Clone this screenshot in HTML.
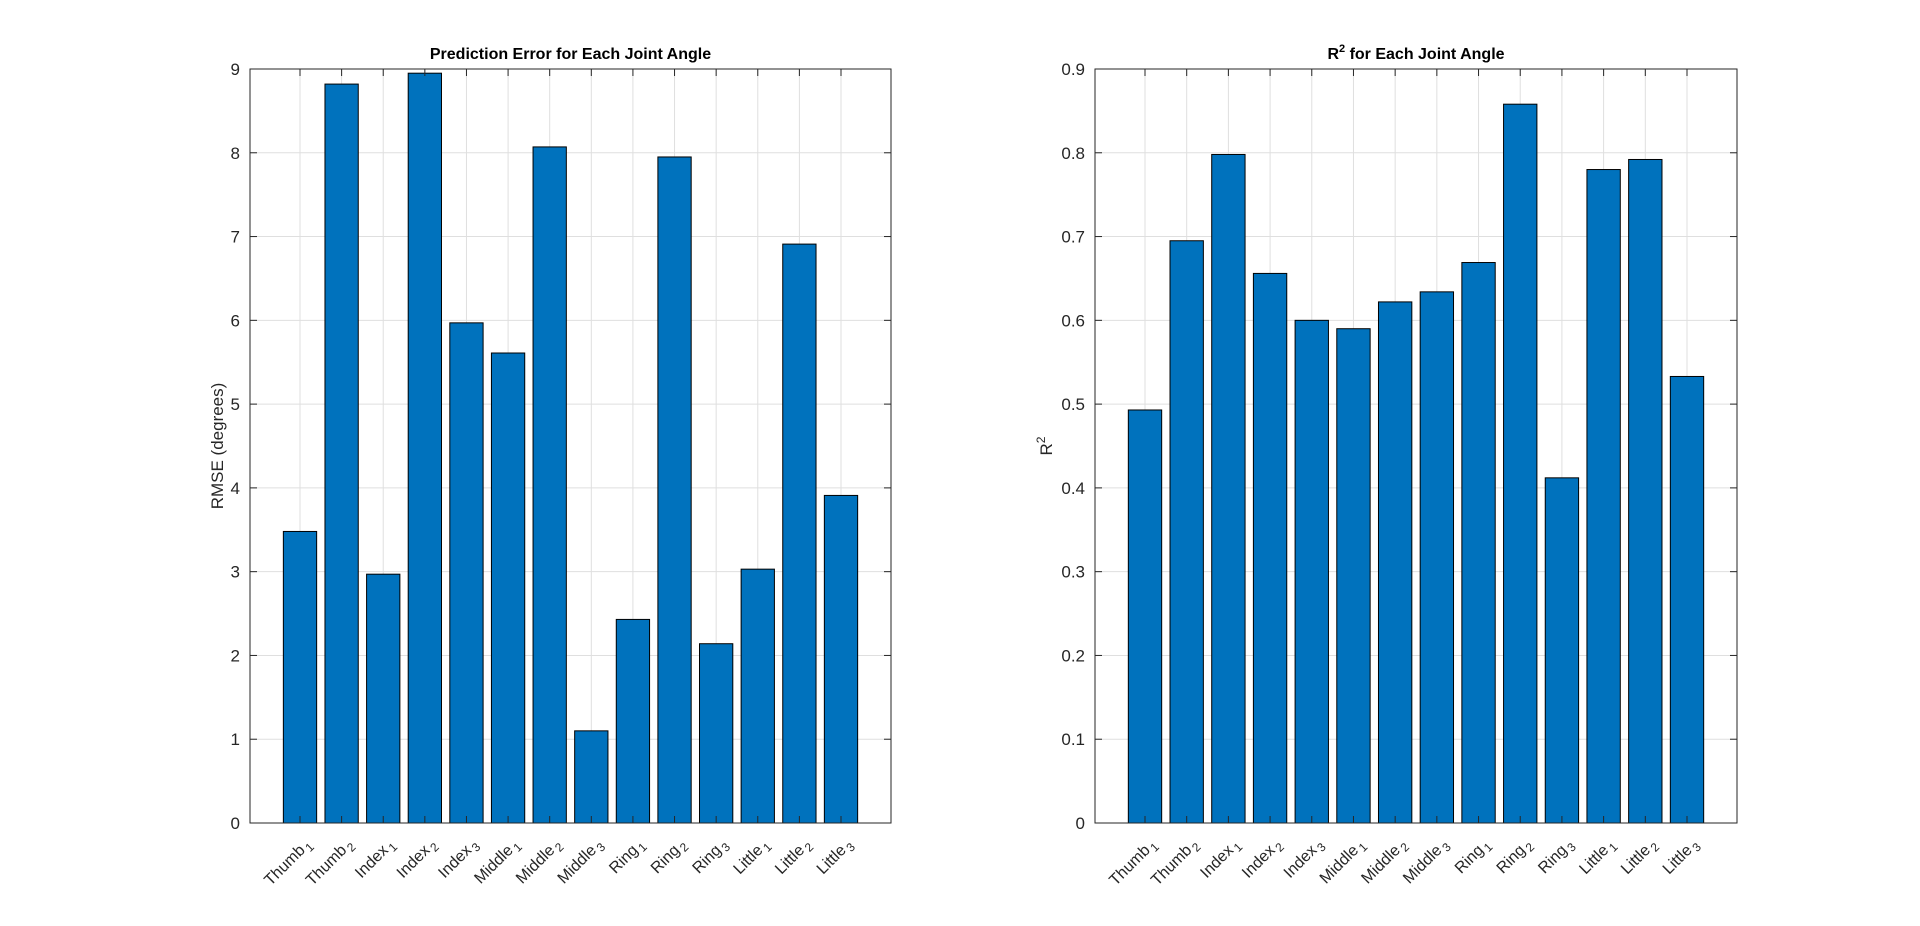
<!DOCTYPE html>
<html><head><meta charset="utf-8"><style>
html,body{margin:0;padding:0;background:#fff;}
svg{display:block;font-family:"Liberation Sans",Arial,sans-serif;}
</style></head><body>
<svg id="fig" width="1920" height="926" viewBox="0 0 1920 926" xmlns="http://www.w3.org/2000/svg">
<rect width="1920" height="926" fill="#fff"/>
</svg>
<script>
const categories = ["Thumb","Thumb","Index","Index","Index","Middle","Middle","Middle","Ring","Ring","Ring","Little","Little","Little"];
const subscripts = ["1","2","1","2","3","1","2","3","1","2","3","1","2","3"];
const rmseValues = [3.48,8.82,2.97,8.95,5.97,5.61,8.07,1.10,2.43,7.95,2.14,3.03,6.91,3.91];
const r2Values = [0.493,0.695,0.798,0.656,0.600,0.590,0.622,0.634,0.669,0.858,0.412,0.780,0.792,0.533];
const rmseTicks = [0,1,2,3,4,5,6,7,8,9];
const r2Ticks = [0,0.1,0.2,0.3,0.4,0.5,0.6,0.7,0.8,0.9];
const r2TickLabels = ["0","0.1","0.2","0.3","0.4","0.5","0.6","0.7","0.8","0.9"];

const NS="http://www.w3.org/2000/svg";
const svg=document.getElementById('fig');
function mk(tag,attrs,parent){const e=document.createElementNS(NS,tag);for(const k in attrs)e.setAttribute(k,attrs[k]);(parent||svg).appendChild(e);return e;}

function drawPanel(o){
  const g=mk('g',{});
  
  
  const L=o.left,R=o.right,T=69,B=823;
  const n=o.values.length;
  const xs=i=>L+50+i*((R-L-100)/(n-1));
  const ys=v=>B-(v-o.ymin)/(o.ymax-o.ymin)*(B-T);
  const step=(R-L-100)/(n-1);
  o.ticks.forEach(t=>{const y=ys(t);const l=mk('line',{x1:L,x2:R,y1:y,y2:y,stroke:'#dfdfdf','stroke-width':1},g);
    });
  for(let i=0;i<n;i++){const x=xs(i);const l=mk('line',{x1:x,x2:x,y1:T,y2:B,stroke:'#dfdfdf','stroke-width':1},g);
    }
  o.values.forEach((v,i)=>{const w=step*0.8;const y=ys(v);
    const r=mk('rect',{x:xs(i)-w/2,y:y,width:w,height:B-y,fill:'#0072BD',stroke:'#000','stroke-width':1},g);
    
    });
  o.ticks.forEach((t,k)=>{const y=ys(t);
    mk('line',{x1:L,x2:L+7,y1:y,y2:y,stroke:'#262626'},g);
    mk('line',{x1:R-7,x2:R,y1:y,y2:y,stroke:'#262626'},g);
    const tx=mk('text',{x:L-10,y:y+6,'text-anchor':'end','font-size':17,fill:'#262626'},g);
    tx.textContent=o.tickLabels[k];
    });
  for(let i=0;i<n;i++){const x=xs(i);
    mk('line',{x1:x,x2:x,y1:B,y2:B-7,stroke:'#262626'},g);
    mk('line',{x1:x,x2:x,y1:T,y2:T+7,stroke:'#262626'},g);
    const tx=mk('text',{transform:`translate(${x+12},${B+22}) rotate(-45)`,'text-anchor':'end','font-size':16,fill:'#262626'},g);
    
    const a=mk('tspan',{},tx);a.textContent=categories[i];
    const b=mk('tspan',{'font-size':12,dy:4,dx:2},tx);b.textContent=subscripts[i];}
  const bx=mk('rect',{x:L,y:T,width:R-L,height:B-T,fill:'none',stroke:'#262626','stroke-width':1},g);
  
  const tt=mk('text',{x:(L+R)/2,y:T-10,'text-anchor':'middle','font-size':16,'font-weight':'bold',fill:'#000'},g);
  
  if(o.r2title){const a=mk('tspan',{},tt);a.textContent='R';const s=mk('tspan',{'font-size':11,dy:-7},tt);s.textContent='2';const c=mk('tspan',{dy:7},tt);c.textContent=' for Each Joint Angle';}
  else tt.textContent=o.title;
  const yl=mk('text',{transform:`translate(${o.ylx},446) rotate(-90)`,'text-anchor':'middle','font-size':17,fill:'#262626'},g);
  
  if(o.r2title){const a=mk('tspan',{},yl);a.textContent='R';const s=mk('tspan',{'font-size':12,dy:-7},yl);s.textContent='2';}
  else yl.textContent=o.ylabel;
}
drawPanel({name:'rmse-chart',left:250,right:891,values:rmseValues,ymin:0,ymax:9,ticks:rmseTicks,tickLabels:rmseTicks.map(String),title:'Prediction Error for Each Joint Angle',ylabel:'RMSE (degrees)',ylx:223});
drawPanel({name:'r2-chart',left:1095,right:1737,values:r2Values,ymin:0,ymax:0.9,ticks:r2Ticks,tickLabels:r2TickLabels,r2title:true,ylx:1052});
</script>
</body></html>
